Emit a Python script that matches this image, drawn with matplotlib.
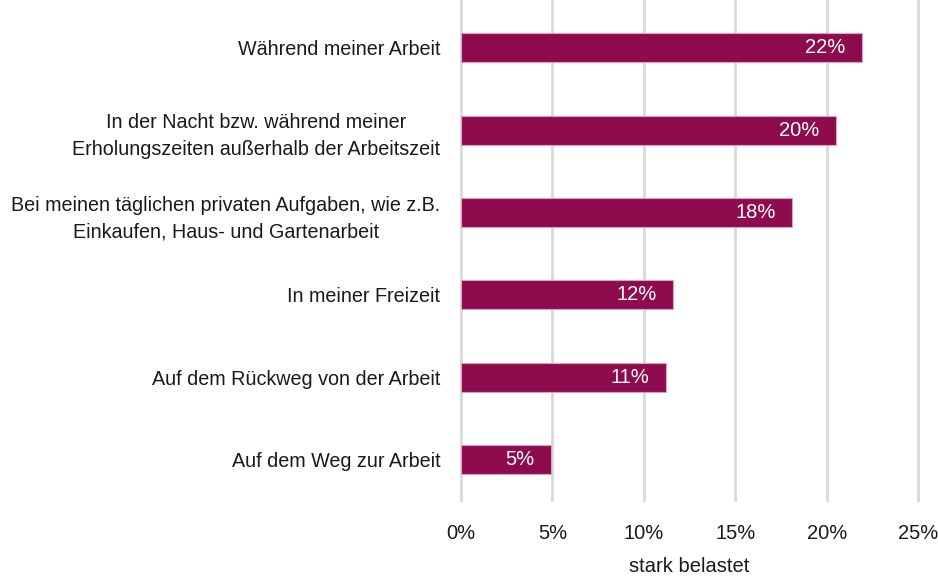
import matplotlib
matplotlib.use("Agg")
import matplotlib.pyplot as plt
from matplotlib.ticker import FuncFormatter

categories = [
    "Während meiner Arbeit",
    "In der Nacht bzw. während meiner\nErholungszeiten außerhalb der Arbeitszeit",
    "Bei meinen täglichen privaten Aufgaben, wie z.B.\nEinkaufen, Haus- und Gartenarbeit",
    "In meiner Freizeit",
    "Auf dem Rückweg von der Arbeit",
    "Auf dem Weg zur Arbeit",
]
values = [21.9, 20.5, 18.1, 11.6, 11.2, 4.9]
bar_labels = ["22%", "20%", "18%", "12%", "11%", "5%"]
xticks = [0, 5, 10, 15, 20, 25]
xlabel = "stark belastet"

plt.rcParams['font.family'] = ['Liberation Sans', 'DejaVu Sans']

W, H = 938, 579
fig = plt.figure(figsize=(W / 100, H / 100), dpi=100)
ax = fig.add_axes([461 / W, 1 - 500 / H, (918.3 - 461) / W, 500 / H])

ypos = list(range(len(categories)))
color = "#8E0C4E"
ax.barh(ypos, values, height=0.35, color=color, edgecolor="#d9a3bf", linewidth=0.8, zorder=3)
for y, v, lab in zip(ypos, values, bar_labels):
    ax.text(v - 0.9, y, lab, ha="right", va="center", color="white", fontsize=14.5, zorder=4)

ax.set_xlim(0, 25)
ax.set_ylim(5.49, -0.58)
ax.set_xticks(xticks)
ax.xaxis.set_major_formatter(FuncFormatter(lambda x, p: f"{x:.0f}%"))
ax.set_yticks(ypos)
ax.set_yticklabels(categories, multialignment="center", linespacing=1.5)
ax.tick_params(axis="y", length=0, pad=15, labelsize=14.2, colors="#1a1a1a")
ax.tick_params(axis="x", length=0, pad=17, labelsize=14.5, colors="#1a1a1a")
ax.grid(axis="x", color="#d9d9d9", linewidth=2, zorder=0)
for gl in ax.get_xgridlines():
    gl.set_clip_on(False)
for s in ax.spines.values():
    s.set_visible(False)
ax.set_xlabel(xlabel, fontsize=14.5, labelpad=10, color="#1a1a1a")

fig.savefig("out.png", dpi=100, facecolor="white")
